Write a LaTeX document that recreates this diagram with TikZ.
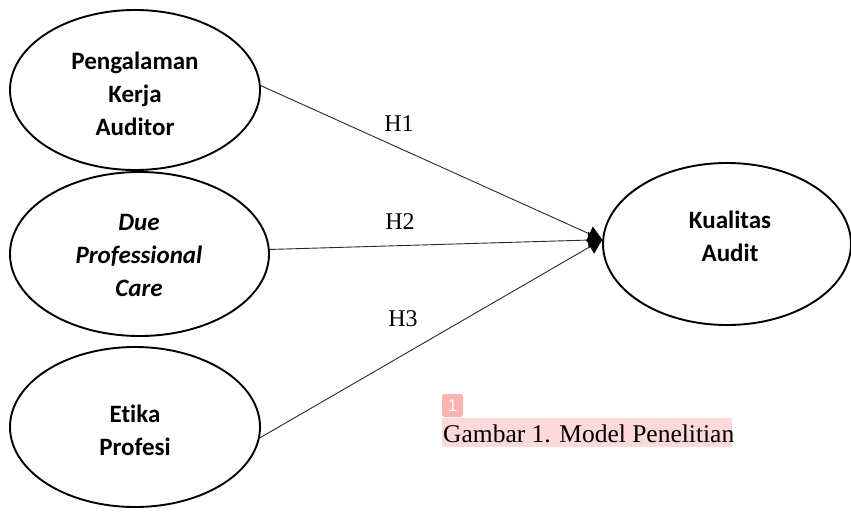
\documentclass[tikz,border=0pt]{standalone}
\usepackage{fontspec}
\setmainfont{Liberation Serif}
\newfontfamily\calfont[Ligatures={NoCommon}]{Carlito}
\newfontfamily\badgefont{Liberation Sans}
\usetikzlibrary{shapes.geometric,arrows.meta}
\definecolor{hlpink}{HTML}{FCDADA}
\definecolor{badgepink}{HTML}{F9B3B3}
\definecolor{linegray}{HTML}{2A2A2A}
\tikzset{
  var/.style={ellipse, draw=black, line width=1.9pt, inner sep=0pt},
  vartext/.style={font=\calfont\bfseries\fontsize{25}{33}\selectfont, align=center, inner sep=0pt},
  hyp/.style={font=\fontsize{24}{28}\selectfont, inner sep=0pt},
  path/.style={draw=linegray, line width=0.9pt, -{Triangle[length=14pt,width=16pt,color=black]}},
}
\begin{document}
\begin{tikzpicture}[x=1pt,y=-1pt]
\useasboundingbox (0,0) rectangle (851,512);
\fill[white] (0,0) rectangle (851,512);
% ellipses
\node[var, minimum width=250pt, minimum height=160pt] (e1) at (135,90) {};
\node[var, minimum width=259pt, minimum height=164pt] (e2) at (139.5,254) {};
\node[var, minimum width=250pt, minimum height=160pt] (e3) at (135,427) {};
\node[var, minimum width=248pt, minimum height=162pt] (e4) at (727,244) {};
% texts
\node[vartext] (t1) at (135,94) {Pengalaman\\Kerja\\Auditor};
\node[vartext] (t2) at (139,255) {\itshape Due\\\itshape Professional\\\itshape Care};
\node[vartext] (t3) at (135,430) {Etika\\Profesi};
\node[vartext] (t4) at (730,236) {Kualitas\\Audit};
% connectors
\draw[path] (e1.2.3) -- (e4.178);
\draw[path] (e2.2.7) -- (e4.178);
\draw[path] (e3.-5) -- (e4.178);
% hypothesis labels
\node[hyp] (h1) at (399,124) {H1};
\node[hyp] (h2) at (400,222) {H2};
\node[hyp] (h3) at (403,319) {H3};
% caption
\fill[hlpink] (442,418) rectangle (732,447);
\node[anchor=base west, inner sep=0pt, font=\fontsize{25.5}{30}\selectfont] (cap) at (443,442) {Gambar 1. Model Penelitian};
\fill[badgepink, rounded corners=2.5pt] (442,394) rectangle (463,417);
\node[text=white, inner sep=0pt, font=\badgefont\fontsize{17}{20}\selectfont] (badge) at (452.5,405.5) {1};
\end{tikzpicture}
\end{document}
